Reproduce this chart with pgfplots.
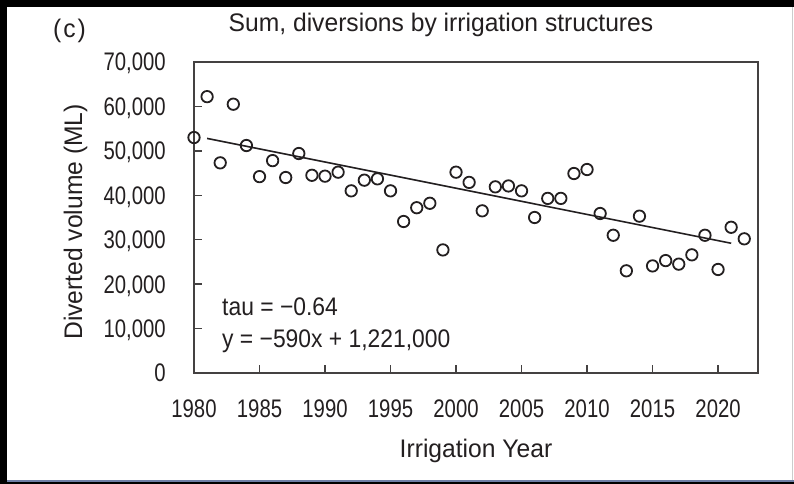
\documentclass[border=0pt]{standalone}
\usepackage{fontspec}
\setmainfont[FakeStretch=0.97]{Liberation Sans}
\newfontfamily\numfont[FakeStretch=0.80]{Liberation Sans}
\newfontfamily\annfont[FakeStretch=0.90]{Liberation Sans}
\usepackage{pgfplots}
\pgfplotsset{compat=1.18}
\definecolor{ink}{HTML}{231F20}
\definecolor{bandblue}{HTML}{6F7FA6}
\pgfplotstableread{
year vol
1980 53000
1981 62200
1982 47300
1983 60500
1984 51200
1985 44200
1986 47800
1987 44000
1988 49400
1989 44500
1990 44300
1991 45200
1992 41000
1993 43400
1994 43700
1995 41000
1996 34100
1997 37200
1998 38200
1999 27700
2000 45200
2001 42900
2002 36500
2003 41900
2004 42100
2005 41000
2006 35000
2007 39300
2008 39300
2009 44900
2010 45800
2011 35900
2012 31000
2013 23000
2014 35300
2015 24100
2016 25300
2017 24500
2018 26600
2019 31000
2020 23300
2021 32800
2022 30200
}\diversions
\begin{document}
\begin{tikzpicture}[x=1bp,y=1bp]
\fill[white] (0,0) rectangle (794,484);
\fill[black] (0,0) rectangle (7,484);
\fill[black] (0,477) rectangle (794,484);
\fill[black] (0,0) rectangle (794,2);
\fill[bandblue] (7,2) rectangle (794,4);
\fill[gray!40] (792,4) rectangle (793,477);
\begin{axis}[
  at={(194bp,111bp)}, anchor=south west,
  scale only axis, width=564bp, height=311bp,
  xmin=1980, xmax=2023.05, ymin=0, ymax=70000,
  clip=false,
  axis line style={line width=1.5bp, draw=ink!85},
  xtick={1980,1985,...,2020},
  ytick={0,10000,...,70000},
  xtick pos=bottom, ytick pos=left,
  tick align=inside,
  major tick length=8bp,
  tick style={line width=1.5bp, draw=ink!85},
  scaled y ticks=false,
  /pgf/number format/assume math mode=true,
  tick label style={font=\numfont\fontsize{25.5}{28}\selectfont, text=ink},
  yticklabel style={/pgf/number format/1000 sep={,}, anchor=base east, inner sep=0pt, xshift=-28bp, yshift=-9bp},
  xticklabel style={/pgf/number format/1000 sep={}, anchor=base, inner sep=0pt, yshift=-45bp},
]
\addplot[only marks, mark=o, mark size=5.7bp, mark options={line width=1.8bp, draw=ink}] table[x=year, y=vol] {\diversions};
\addplot[no marks, line width=1.6bp, draw=ink] coordinates {(1981,52800) (2021,29200)};
\end{axis}
\begin{scope}[every node/.style={text=ink, inner sep=0pt, font=\fontsize{25.5}{28}\selectfont}]
\node[anchor=base] at (441,452) {Sum, diversions by irrigation structures};
\node[anchor=base west] at (53,446) {(\hspace{2bp}c\hspace{2bp})};
\node[anchor=base] at (476,26) {Irrigation Year};
\node[anchor=base, rotate=90] at (82,262) {Diverted volume (ML)};
\node[anchor=base west, font=\annfont\fontsize{25.5}{28}\selectfont] at (222,168) {tau = −0.64};
\node[anchor=base west, font=\annfont\fontsize{25.5}{28}\selectfont] at (222,136) {y = −590x + 1,221,000};
\end{scope}
\end{tikzpicture}
\end{document}
